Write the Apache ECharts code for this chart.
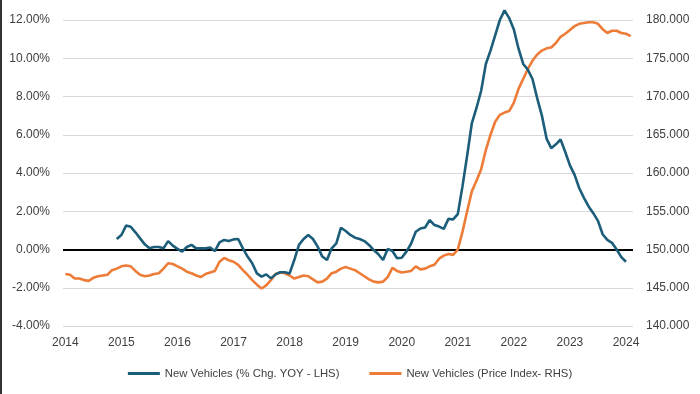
<!DOCTYPE html>
<html>
<head>
<meta charset="utf-8">
<script src="https://cdn.jsdelivr.net/npm/echarts@6/dist/echarts.min.js"></script>
<style>
html,body{margin:0;padding:0;background:#fff;}
#wrap{position:relative;width:700px;height:394px;}
#c{width:700px;height:394px;}
#edge{position:absolute;left:0;top:0;width:2px;height:394px;background:#333;}
</style>
</head>
<body>
<div id="wrap"><div id="c"></div><div id="edge"></div></div>
<script>
// Monthly categories Jan 2014 .. Feb 2024
const startYear = 2014;
const monthCount = 122;
const categories = [];
for (let i = 0; i < monthCount; i++) {
  const y = startYear + Math.floor(i / 12);
  const m = (i % 12) + 1;
  categories.push(y + '-' + (m < 10 ? '0' + m : m));
}
const yearTickLabels = ['2014','2015','2016','2017','2018','2019','2020','2021','2022','2023','2024'];

const seriesNames = ['New Vehicles (% Chg. YOY - LHS)', 'New Vehicles (Price Index- RHS)'];

// % change YoY (left axis), starts Dec 2014, ends Jan 2024
const yoyChange = [
  null,null,null,null,null,null,null,null,null,null,null,
  0.55,0.76,1.25,1.19,0.90,0.58,0.27,0.06,0.13,0.13,0.06,0.44,
  0.20,0.03,-0.11,0.13,0.24,0.06,0.06,0.06,0.10,-0.08,0.37,0.50,
  0.44,0.53,0.55,0.06,-0.37,-0.72,-1.25,-1.42,-1.30,-1.51,-1.30,-1.19,
  -1.19,-1.25,-0.55,0.24,0.55,0.76,0.55,0.15,-0.37,-0.55,0.06,0.32,
  1.14,0.97,0.76,0.62,0.55,0.44,0.24,-0.03,-0.25,-0.55,0.03,-0.08,
  -0.46,-0.43,-0.11,0.30,0.93,1.10,1.15,1.54,1.28,1.20,1.08,1.60,
  1.57,1.85,3.30,4.90,6.60,7.40,8.30,9.70,10.40,11.20,12.00,12.50,
  12.10,11.50,10.50,9.70,9.40,8.90,7.90,7.00,5.80,5.30,5.50,5.75,
  5.10,4.40,3.90,3.20,2.70,2.25,1.90,1.50,0.80,0.50,0.35,0.00,
  -0.40,-0.64
];

// Price index (right axis), Jan 2014 .. Feb 2024
const priceIndex = [
  146.8,146.7,146.2,146.2,146.0,145.9,146.3,146.5,146.6,146.7,147.3,147.5,
  147.8,147.9,147.8,147.2,146.7,146.5,146.6,146.8,146.9,147.5,148.2,148.1,
  147.8,147.5,147.1,146.9,146.6,146.4,146.8,147.0,147.2,148.4,148.9,148.6,
  148.4,148.0,147.3,146.7,146.0,145.4,144.9,145.3,146.0,146.8,147.0,146.9,
  146.6,146.2,146.4,146.6,146.5,146.1,145.7,145.8,146.2,146.9,147.1,147.5,
  147.7,147.5,147.3,146.9,146.5,146.1,145.8,145.7,145.8,146.4,147.6,147.2,
  147.0,147.1,147.2,147.8,147.4,147.5,147.8,148.0,148.8,149.2,149.4,149.3,
  150.0,152.3,155.0,157.6,159.0,160.5,163.0,165.0,166.7,167.6,167.9,168.1,
  169.2,171.0,172.3,173.6,174.7,175.5,176.0,176.3,176.4,177.0,177.8,178.2,
  178.7,179.2,179.5,179.6,179.7,179.7,179.5,178.8,178.3,178.6,178.6,178.3,
  178.2,177.9
];

const leftTicks = { min: -4, max: 12, interval: 2 };
const rightTicks = { min: 140, max: 180, interval: 5 };

const chart = echarts.init(document.getElementById('c'), null, { renderer: 'canvas' });
const font = 'Liberation Sans, Arial, sans-serif';
const textColor = '#404040';

chart.setOption({
  animation: false,
  backgroundColor: '#fff',
  textStyle: { fontFamily: font },
  grid: { left: 63, right: 67, top: 20, bottom: 68, containLabel: false, outerBoundsMode: 'none' },
  legend: {
    top: 363,
    left: 'center',
    itemWidth: 32,
    itemHeight: 3,
    itemGap: 30,
    icon: 'rect',
    textStyle: { color: textColor, fontSize: 11.3, fontFamily: font },
    data: seriesNames
  },
  xAxis: {
    type: 'category',
    data: categories,
    boundaryGap: true,
    axisLine: { show: false },
    axisTick: { show: false },
    splitLine: { show: false },
    axisLabel: {
      interval: 11,
      color: textColor,
      fontSize: 12,
      margin: 11,
      formatter: function (v) { return v.slice(0, 4); }
    }
  },
  yAxis: [
    {
      type: 'value',
      min: leftTicks.min, max: leftTicks.max, interval: leftTicks.interval,
      axisLine: { show: false },
      axisTick: { show: false },
      splitLine: { show: true, lineStyle: { color: '#d9d9d9', width: 1 } },
      axisLabel: { color: textColor, fontSize: 12, margin: 13,
        formatter: function (v) { return v.toFixed(2) + '%'; } }
    },
    {
      type: 'value',
      min: rightTicks.min, max: rightTicks.max, interval: rightTicks.interval,
      axisLine: { show: false },
      axisTick: { show: false },
      splitLine: { show: false },
      axisLabel: { color: textColor, fontSize: 12, margin: 13,
        formatter: function (v) { return v.toFixed(3); } }
    }
  ],
  series: [
    {
      name: seriesNames[1],
      type: 'line',
      yAxisIndex: 1,
      data: priceIndex,
      showSymbol: false,
      symbol: 'none',
      clip: false,
      lineStyle: { color: '#ec7c37', width: 2.6 },
      itemStyle: { color: '#ec7c37' },
      z: 2
    },
    {
      name: seriesNames[0],
      type: 'line',
      yAxisIndex: 0,
      data: yoyChange,
      showSymbol: false,
      symbol: 'none',
      clip: false,
      connectNulls: false,
      lineStyle: { color: '#1c5e7a', width: 2.6 },
      itemStyle: { color: '#1c5e7a' },
      z: 3,
      markLine: {
        silent: true,
        symbol: ['none', 'none'],
        label: { show: false },
        lineStyle: { color: '#000', width: 2, type: 'solid' },
        data: [{ yAxis: 0 }],
        z: 1
      }
    }
  ]
});
</script>
</body>
</html>
